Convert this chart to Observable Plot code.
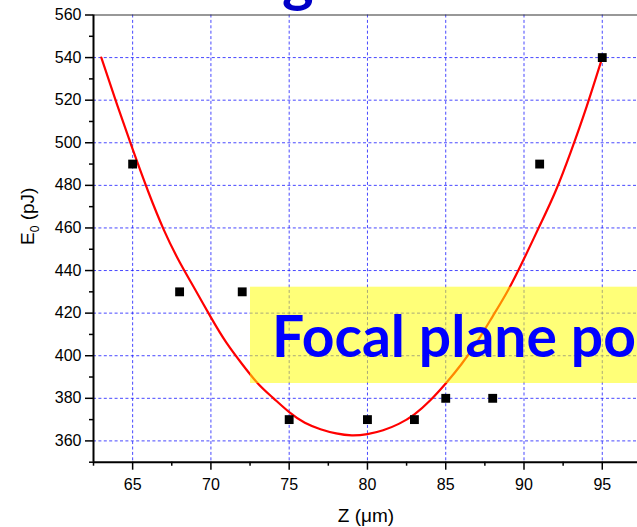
<!DOCTYPE html>
<html>
<head>
<meta charset="utf-8">
<script src="https://cdn.jsdelivr.net/npm/d3@7"></script>
<script src="https://cdn.jsdelivr.net/npm/@observablehq/plot@0.6"></script>
<style>
  html, body { margin: 0; padding: 0; background: white; overflow: hidden; }
  #chart { width: 637px; height: 527px; }
</style>
</head>
<body>
<div id="chart"></div>
<script>
// Measured pulse energy vs. sample position
const zValues = [65, 68, 72, 75, 80, 83, 85, 88, 91, 95];
const energyValues = [490, 430, 430, 370, 370, 370, 380, 380, 490, 540];

// Fitted curve, sampled every 1 µm
const fitZ = [63, 64, 65, 66, 67, 68, 69, 70, 71, 72, 73, 74, 75, 76, 77, 78, 79,
              80, 81, 82, 83, 84, 85, 86, 87, 88, 89, 90, 91, 92, 93, 94, 95];
const fitE = [540, 518, 497, 477, 459, 444, 431, 418, 406, 396, 387, 380, 373.5, 368.5, 365.5, 363.5, 362.6,
              363.2, 365, 368, 372.5, 379, 387, 396, 406.5, 418.5, 431, 445.5, 461, 477, 496, 517, 540];

// Axes
const xDomain = [62.5, 97.25];
const yDomain = [350, 560];
const xMajor = [65, 70, 75, 80, 85, 90, 95];
const xMinor = [62.5, 67.5, 72.5, 77.5, 82.5, 87.5, 92.5];
const yMajor = [360, 380, 400, 420, 440, 460, 480, 500, 520, 540, 560];
const yMinor = [350, 370, 390, 410, 430, 450, 470, 490, 510, 530, 550];
const xLabel = "Z (μm)";
const annotation = "Focal plane position";

const points = zValues.map((z, i) => ({z, e: energyValues[i]}));
const fit = fitZ.map((z, i) => ({z, e: fitE[i]}));

const gridStyle = {stroke: "#1a1aff", strokeOpacity: 0.8, strokeDasharray: "3,2.4"};

const chart = Plot.plot({
  width: 637,
  height: 527,
  marginLeft: 93,
  marginRight: 0,
  marginTop: 14.5,
  marginBottom: 65.3,
  x: {domain: xDomain},
  y: {domain: yDomain},
  style: {fontFamily: "'Liberation Sans', Arial, sans-serif", fontSize: "16px", color: "black", background: "white"},
  marks: [
    Plot.gridX(xMajor, gridStyle),
    Plot.gridY(yMajor.filter(v => v < yDomain[1]), gridStyle),
    Plot.line(fit, {x: "z", y: "e", stroke: "red", strokeWidth: 2.2, curve: "natural"}),
    Plot.dot(points, {x: "z", y: "e", symbol: "square", r: 5, fill: "black"}),
    Plot.ruleY([yDomain[1]], {stroke: "#333", strokeWidth: 1.2}),
    Plot.ruleX([xDomain[0]], {stroke: "black", strokeWidth: 2}),
    Plot.ruleY([yDomain[0]], {stroke: "black", strokeWidth: 2}),
    Plot.axisX({ticks: xMajor, tickSize: 8, tickPadding: 8, strokeWidth: 1.5, label: null, tickFormat: d => String(d)}),
    Plot.axisX({ticks: xMinor, tickSize: 4, strokeWidth: 1.5, label: null, tickFormat: () => ""}),
    Plot.axisY({ticks: yMajor, tickSize: 8, tickPadding: 4, strokeWidth: 1.5, label: null, tickFormat: d => String(d)}),
    Plot.axisY({ticks: yMinor, tickSize: 4, strokeWidth: 1.5, label: null, tickFormat: () => ""})
  ]
});

const svg = d3.select(chart);

// Semi-transparent highlight band with its caption
svg.append("rect")
  .attr("x", 250).attr("y", 286.7)
  .attr("width", 400).attr("height", 96.3)
  .attr("fill", "rgb(255,255,0)").attr("fill-opacity", 0.53);
svg.append("text")
  .attr("x", 272).attr("y", 357)
  .attr("text-anchor", "start")
  .attr("font-family", "Lato, 'Open Sans', sans-serif")
  .attr("font-weight", 700)
  .attr("font-size", 57)
  .attr("fill", "#0000ff")
  .text(annotation);

// Descender of the slide heading above the chart
svg.append("text")
  .attr("x", 282).attr("y", 0)
  .attr("text-anchor", "start")
  .attr("font-family", "Lato, 'Open Sans', sans-serif")
  .attr("font-weight", 700)
  .attr("font-size", 60)
  .attr("fill", "#0000c8")
  .text("g");

// Axis titles
svg.append("text")
  .attr("x", 366).attr("y", 521.5)
  .attr("text-anchor", "middle")
  .attr("font-size", 19)
  .text(xLabel);

const yTitle = svg.append("text")
  .attr("transform", "translate(33.5,245) rotate(-90)")
  .attr("text-anchor", "start")
  .attr("font-size", 19);
yTitle.append("tspan").text("E");
yTitle.append("tspan").attr("font-size", 12).attr("dy", 5).text("0");
yTitle.append("tspan").attr("dy", -5).text(" (pJ)");

document.getElementById("chart").appendChild(chart);
</script>
</body>
</html>
